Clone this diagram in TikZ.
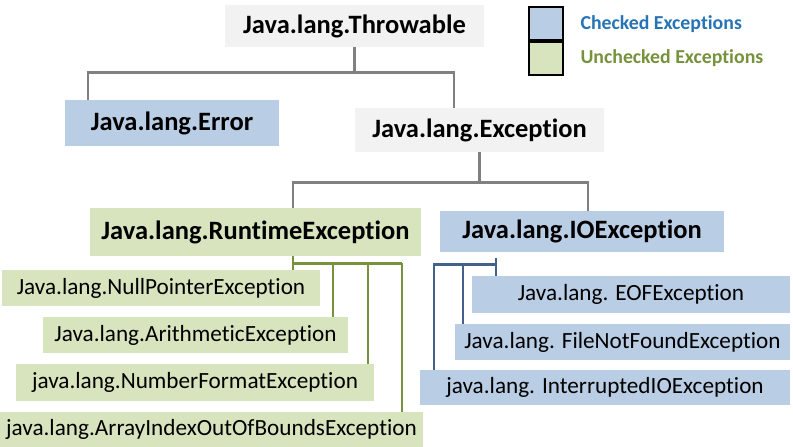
\documentclass[tikz,border=0pt]{standalone}
\usepackage{fontspec}
\setmainfont{Carlito}[Ligatures=NoCommon]
\usepackage{tikz}
\usetikzlibrary{positioning,calc}
\usepackage{xcolor}
\definecolor{chkblue}{RGB}{185,205,229}
\definecolor{unchkgreen}{RGB}{215,228,189}
\definecolor{rootgray}{RGB}{242,242,242}
\definecolor{chktext}{RGB}{38,116,182}
\definecolor{unchktext}{RGB}{118,146,60}
\definecolor{ioline}{RGB}{66,98,140}

\begin{document}
\begin{tikzpicture}[
    x=1pt, y=-1pt,
    box/.style={rectangle, inner sep=0pt, font=\fontsize{26.5}{30}\selectfont\bfseries},
    leaf/.style={rectangle, inner sep=0pt, font=\fontsize{23.2}{26}\selectfont},
    root/.style={box, fill=rootgray},
    checked/.style={fill=chkblue},
    unchecked/.style={fill=unchkgreen},
    tline/.style={draw=gray, line width=2.6pt},
    rline/.style={draw=unchktext, line width=2.6pt},
    iline/.style={draw=ioline, line width=2.6pt}
]
    \useasboundingbox (0,0) rectangle (793,447);

    % Top levels
    \node[root, minimum width=259pt, minimum height=42pt] (throwable) at (354.5,26) {Java.lang.Throwable};
    \node[box, checked, minimum width=214pt, minimum height=46pt] (error) at (172,123) {Java.lang.Error};
    \node[root, minimum width=249pt, minimum height=44pt] (exception) at (479.5,130) {Java.lang.Exception};
    \node[box, unchecked, minimum width=331pt, minimum height=48pt] (runtime) at (255.5,232) {Java.lang.RuntimeException};
    \node[box, checked, minimum width=284pt, minimum height=41pt] (io) at (582,231.5) {Java.lang.IOException};

    % Unchecked children
    \node[leaf, unchecked, minimum width=318pt, minimum height=36pt] (npe) at (161,288) {Java.lang.NullPointerException};
    \node[leaf, unchecked, minimum width=305pt, minimum height=36pt] (ae) at (195.5,335) {Java.lang.ArithmeticException};
    \node[leaf, unchecked, minimum width=358pt, minimum height=37pt] (nfe) at (195,382.5) {java.lang.NumberFormatException};
    \node[leaf, unchecked, minimum width=423pt, minimum height=35pt] (aioobe) at (211.5,429.5) {java.lang.ArrayIndexOutOfBoundsException};

    % Checked children
    \node[leaf, checked, minimum width=318pt, minimum height=37pt] (eof) at (631,294.5) {Java.lang. EOFException};
    \node[leaf, checked, minimum width=335pt, minimum height=36pt] (fnfe) at (622.5,342) {Java.lang. FileNotFoundException};
    \node[leaf, checked, minimum width=370pt, minimum height=35pt] (iie) at (605,387.5) {java.lang. InterruptedIOException};

    % Legend
    \node[rectangle, draw, line width=2pt, checked, minimum width=34pt, minimum height=33pt] (legchk) at (546,23.5) {};
    \node[rectangle, draw, line width=2pt, unchecked, minimum width=34pt, minimum height=33pt, below=0pt of legchk] (legunchk) {};
    \node[anchor=west, text=chktext, font=\fontsize{19.8}{22}\selectfont\bfseries] (legchktxt) at (577,24) {Checked Exceptions};
    \node[anchor=west, text=unchktext, font=\fontsize{19.8}{22}\selectfont\bfseries] (legunchktxt) at (577,58) {Unchecked Exceptions};

    % Edges
    \draw[tline] (throwable.south) -- ++(0,25) coordinate (t1);
    \draw[tline] ([xshift=23pt]error.north west) |- (t1) -| ([xshift=99pt]exception.north west);
    \draw[tline] (exception.south) -- ++(0,30) coordinate (e1);
    \draw[tline] ([xshift=203pt]runtime.north west) |- (e1) -| ([xshift=148pt]io.north west);

    % Runtime bus
    \coordinate (r1) at ([xshift=203pt,yshift=-7pt]runtime.south west);
    \coordinate (r2) at ([xshift=40pt]r1);
    \coordinate (r3) at ([xshift=75pt]r1);
    \coordinate (r4) at ([xshift=109pt]r1);
    \draw[rline] ([xshift=203pt]runtime.south west) -- (r1 |- npe.north);
    \draw[rline] (r1) -- (r4);
    \draw[rline] (r2) -- (r2 |- ae.north);
    \draw[rline] (r3) -- (r3 |- nfe.north);
    \draw[rline] (r4) -- (r4 |- aioobe.north);

    % IO bus
    \coordinate (itop) at ([xshift=56pt,yshift=-6pt]io.south west);
    \coordinate (i1) at ([yshift=-6pt]itop);
    \coordinate (i2) at ([xshift=-33pt]i1);
    \coordinate (i3) at ([xshift=-62pt]i1);
    \draw[iline] (itop) -- (itop |- eof.north);
    \draw[iline] (i1) -- (i3) -- (i3 |- iie.north);
    \draw[iline] (i2) -- (i2 |- fnfe.north);
\end{tikzpicture}
\end{document}
